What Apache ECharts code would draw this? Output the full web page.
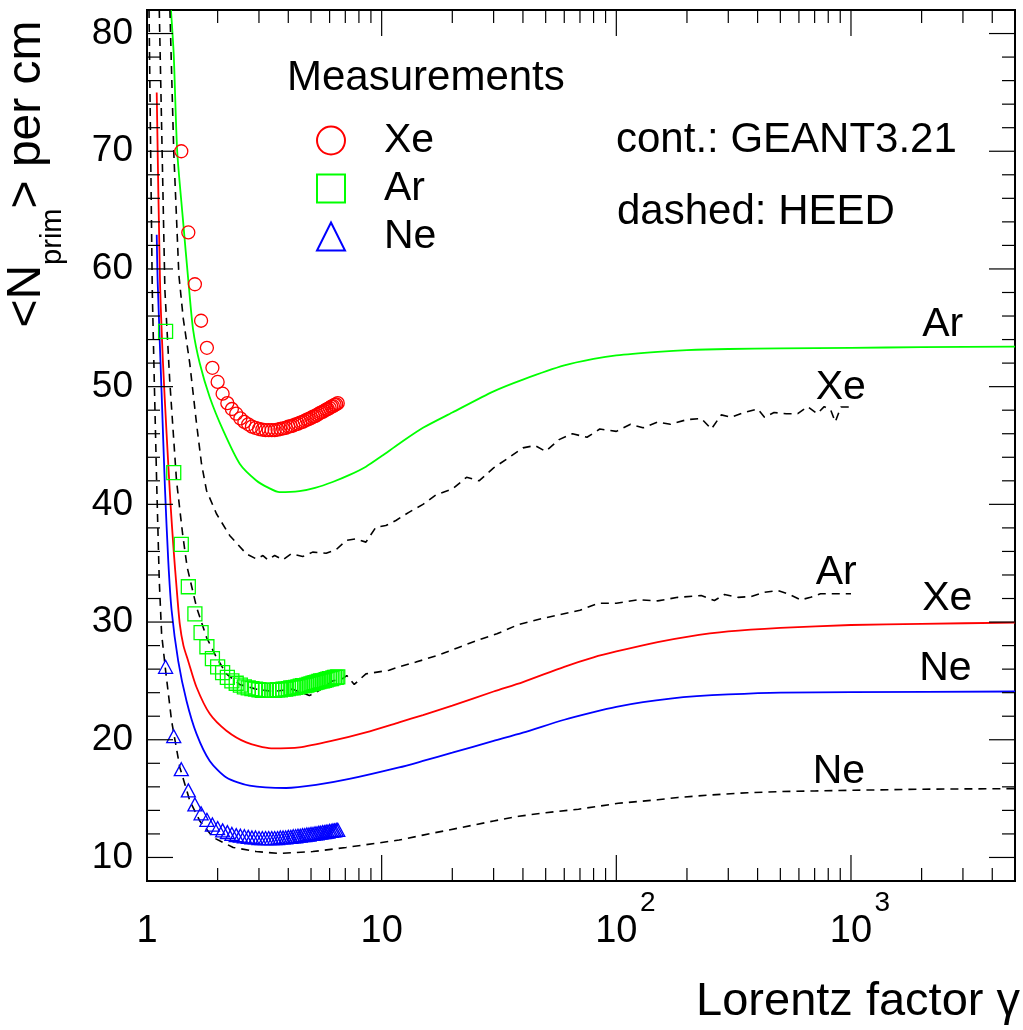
<!DOCTYPE html>
<html>
<head>
<meta charset="utf-8">
<script src="https://cdn.jsdelivr.net/npm/echarts@6/dist/echarts.min.js"></script>
<style>
html,body{margin:0;padding:0;background:#fff;}
#chart{width:1023px;height:1030px;}
</style>
</head>
<body>
<div id="chart"></div>
<script>
// ---------------- data ----------------
// measurements (gamma grid and mean primary clusters per cm)
const measGammaXe = [1.4,1.5,1.6,1.7,1.8,1.9,2.0,2.1,2.2,2.3,2.4,2.5,2.6,2.7,2.8,2.9,3.0,3.1,3.2,3.3,3.4,3.5,3.6,3.7,3.8,3.9,4.0,4.1,4.2,4.3,4.4,4.5,4.6,4.7,4.8,4.9,5.0,5.1,5.2,5.3,5.4,5.5,5.6,5.7,5.8,5.9,6.0,6.1,6.2,6.3,6.4,6.5];
const measXe = [70.0,63.1,58.7,55.6,53.3,51.6,50.4,49.4,48.6,48.1,47.7,47.3,47.0,46.8,46.6,46.5,46.4,46.35,46.3,46.3,46.3,46.3,46.35,46.4,46.45,46.5,46.6,46.65,46.7,46.8,46.85,46.95,47.0,47.1,47.2,47.25,47.35,47.45,47.5,47.6,47.7,47.8,47.85,47.95,48.05,48.1,48.2,48.3,48.35,48.45,48.5,48.6];
const measGammaArNe = [1.2,1.3,1.4,1.5,1.6,1.7,1.8,1.9,2.0,2.1,2.2,2.3,2.4,2.5,2.6,2.7,2.8,2.9,3.0,3.1,3.2,3.3,3.4,3.5,3.6,3.7,3.8,3.9,4.0,4.1,4.2,4.3,4.4,4.5,4.6,4.7,4.8,4.9,5.0,5.1,5.2,5.3,5.4,5.5,5.6,5.7,5.8,5.9,6.0,6.1,6.2,6.3,6.4,6.5];
const measAr = [54.7,42.7,36.6,33.0,30.7,29.1,27.9,26.9,26.2,25.7,25.3,25.0,24.8,24.65,24.5,24.4,24.35,24.3,24.25,24.2,24.2,24.2,24.2,24.2,24.25,24.25,24.3,24.3,24.35,24.4,24.4,24.45,24.5,24.55,24.6,24.6,24.65,24.7,24.75,24.8,24.85,24.9,24.95,25.0,25.0,25.05,25.1,25.15,25.2,25.2,25.25,25.3,25.3,25.35];
const measNe = [26.2,20.3,17.5,15.7,14.5,13.75,13.2,12.8,12.5,12.3,12.15,12.0,11.9,11.85,11.8,11.75,11.7,11.7,11.65,11.65,11.65,11.65,11.65,11.65,11.65,11.7,11.7,11.7,11.75,11.75,11.8,11.8,11.85,11.85,11.9,11.9,11.95,11.95,12.0,12.0,12.05,12.05,12.1,12.1,12.15,12.15,12.2,12.2,12.25,12.25,12.3,12.3,12.35,12.35];

// GEANT3.21 (solid)
const geantArGamma = [1.265,1.30,1.345,1.42,1.508,1.573,1.679,1.851,2.109,2.483,2.922,3.3,3.671,4.46,5.2,6.18,7.3,8.57,10,11.87,15,20,30,40,60,80,100,150,200,300,500,1000,2000,5000];
const geantAr = [82,78.2,70.0,64.4,58.5,54.8,51.96,49.1,46.3,43.45,42.03,41.4,41.04,41.12,41.4,41.9,42.5,43.2,44.1,45.15,46.5,47.8,49.6,50.6,51.8,52.35,52.65,52.95,53.1,53.2,53.25,53.3,53.35,53.4];
const geantXeGamma = [1.1,1.136,1.17,1.212,1.26,1.30,1.336,1.38,1.43,1.498,1.626,1.851,2.18,2.65,3.38,4.46,6.18,8.57,11.87,15,20,30,40,60,80,100,150,200,300,500,1000,2000,5000];
const geantXe = [75,59,52,46,40,36,33,29.8,28.0,26.7,24.46,22.2,20.77,19.78,19.27,19.35,19.92,20.63,21.48,22.1,22.9,24.1,24.9,26.2,27.0,27.5,28.3,28.75,29.2,29.5,29.75,29.85,29.95];
const geantNeGamma = [1.1,1.11,1.154,1.192,1.232,1.273,1.358,1.474,1.626,1.851,2.18,2.738,3.92,5.25,7.28,11.87,15,20,30,40,60,80,100,130,170,220,300,500,1000,5000];
const geantNe = [62.9,59.0,49.5,41.5,35.2,31.0,26.7,23.3,20.5,18.2,16.8,16.1,15.9,16.16,16.67,17.65,18.2,18.9,19.9,20.6,21.7,22.35,22.8,23.2,23.5,23.7,23.85,24.0,24.05,24.1];

// HEED (dashed)
const heedXeGamma = [1.252,1.30,1.367,1.427,1.522,1.626,1.707,1.793,1.977,2.25,2.65,2.92,3.12,3.27,3.50,3.79,4.12,4.61,5.08,5.8,6.39,7.05,7.77,8.57,9.45,10.42,11.5,13,15,17,20,23,26,30,35,40,45,50,57,65,75,85,100,115,130,150,170,200,230,254,280,309,350,401,428,470,530,593,653,718,769,820,857,906,982];
const heedXe = [82,70.0,59.5,55.8,51.95,46.85,43.45,41.18,39.2,37.36,35.8,35.37,35.65,35.29,35.65,35.29,35.8,35.57,35.94,35.85,36.14,36.93,37.07,36.79,38.06,38.2,38.63,39.3,40.0,40.8,41.3,42.3,42.0,43.1,44.0,44.8,45.0,44.5,45.5,46.0,45.7,46.4,46.2,46.8,46.5,47.0,46.8,47.2,47.3,46.4,47.6,47.4,47.8,48.1,47.4,47.8,47.7,47.7,48.3,47.7,48.3,48.0,47.0,48.27,48.27];
const heedArGamma = [1.128,1.16,1.192,1.25,1.336,1.42,1.483,1.626,1.793,1.977,2.18,2.48,2.92,3.44,4.18,4.92,5.43,6.18,6.82,7.1,7.64,8.57,10.76,11.87,14,17.5,21,26,31,38.4,46,56.7,70,84,100,124,150,183,230,262,289,330,375,428,488,538,611,673,741,1000];
const heedAr = [82,70,58.2,50.5,42.0,37.4,34.66,31.26,28.7,27.0,25.6,24.7,24.3,24.1,24.3,23.75,24.2,25.0,25.2,25.45,24.7,25.6,25.9,26.2,26.6,27.2,27.8,28.5,29.0,29.8,30.2,30.6,31.0,31.6,31.6,31.9,31.8,32.1,32.25,31.83,32.34,32.1,32.17,32.53,32.68,32.4,31.89,32.1,32.4,32.4];
const heedNeGamma = [1.02,1.053,1.074,1.099,1.128,1.154,1.2,1.273,1.38,1.523,1.679,1.913,2.33,2.92,3.67,5.09,7.05,11.87,15,21.3,30,38.4,50,69,102,150,183,250,363,500,700,967,2000,5000];
const heedNe = [82,58.2,50.5,42.0,33.5,29.0,25.9,21.6,17.65,14.8,13.1,11.7,10.85,10.5,10.34,10.5,10.85,11.48,11.9,12.5,13.1,13.5,13.8,14.1,14.6,14.9,15.1,15.3,15.5,15.6,15.65,15.7,15.8,15.85];

// curve annotations [gamma, value, text]
const curveLabels = [
  [2012, 55.3, 'Ar'],
  [707, 49.9, 'Xe'],
  [707, 34.2, 'Ar'],
  [2012, 32.0, 'Xe'],
  [1954, 26.0, 'Ne'],
  [687, 17.3, 'Ne']
];

// axis ticks
const xMajorTicks = [10, 100, 1000];
const xMinorTicks = [2,3,4,5,6,7,8,9,20,30,40,50,60,70,80,90,200,300,400,500,600,700,800,900,2000,3000,4000];
const yMajorTicks = [10,20,30,40,50,60,70,80];
const yMinorTicks = [12,14,16,18,22,24,26,28,32,34,36,38,42,44,46,48,52,54,56,58,62,64,66,68,72,74,76,78];

// ---------------- chart ----------------
const FONT = "'Liberation Sans', Arial, Helvetica, sans-serif";
const X_MIN = 1, X_MAX = 5000, Y_MIN = 8, Y_MAX = 82;
const zip = (xs, ys) => xs.map((x, i) => [x, ys[i]]);

const chart = echarts.init(document.getElementById('chart'), null, {renderer: 'canvas'});

function lineSeries(name, xs, ys, color, dashed) {
  return {
    name: name, type: 'line', data: zip(xs, ys), showSymbol: false, symbol: 'none',
    smooth: dashed ? false : 0.25, clip: true, silent: true, z: 3,
    lineStyle: {color: color, width: dashed ? 1.6 : 1.8, type: dashed ? [8, 6] : 'solid', opacity: 1}
  };
}
function markerSeries(name, xs, ys, color, symbol, size) {
  return {
    name: name, type: 'scatter', data: zip(xs, ys), symbol: symbol, symbolSize: size,
    itemStyle: {color: 'rgba(0,0,0,0)', borderColor: color, borderWidth: 1.3, opacity: 1}, z: 4, silent: true
  };
}

const xTickData = xMinorTicks.map(v => [v, Y_MIN, 13]).concat(xMajorTicks.map(v => [v, Y_MIN, 26]));
const yTickData = yMinorTicks.map(v => [X_MIN, v, 13]).concat(yMajorTicks.map(v => [X_MIN, v, 26]));
const titleStyle = {fontSize: 42, fontWeight: 'normal', color: '#000', fontFamily: FONT};

const option = {
  animation: false,
  backgroundColor: '#fff',
  textStyle: {fontFamily: FONT},
  grid: {left: 147, right: 6, top: 10, bottom: 149, show: true, borderColor: '#000', borderWidth: 2, backgroundColor: 'transparent'},
  title: [
    {text: 'Measurements', left: 287, top: 57, padding: 0, textStyle: titleStyle},
    {text: 'cont.: GEANT3.21', left: 616, top: 119, padding: 0, textStyle: titleStyle},
    {text: 'dashed: HEED', left: 617, top: 191, padding: 0, textStyle: titleStyle}
  ],
  legend: {
    orient: 'vertical', left: 316, top: 120, padding: 0,
    itemWidth: 28, itemHeight: 28, itemGap: 7, selectedMode: false,
    data: [{name: 'Xe', icon: 'circle'}, {name: 'Ar', icon: 'rect'}, {name: 'Ne', icon: 'triangle'}],
    textStyle: {fontSize: 41, color: '#000', fontFamily: FONT, lineHeight: 28, padding: [0, 0, 0, 34]}
  },
  xAxis: {
    type: 'log', logBase: 10, min: X_MIN, max: X_MAX,
    axisLine: {show: false}, axisTick: {show: false}, splitLine: {show: false}, minorTick: {show: false},
    axisLabel: {
      margin: 8, color: '#000',
      formatter: function (v) {
        const e = Math.round(Math.log10(v));
        if (Math.abs(Math.log10(v) - e) > 1e-6) return '';
        if (e === 0) return '{b|1}';
        if (e === 1) return '{b|10}';
        return '{p| }{b|10}{s|' + e + '}';
      },
      rich: {
        b: {fontSize: 38, lineHeight: 85, color: '#000', fontFamily: FONT},
        s: {fontSize: 28, lineHeight: 28, verticalAlign: 'top', width: 18, align: 'right', color: '#000', fontFamily: FONT},
        p: {fontSize: 28, width: 18, fontFamily: FONT}
      }
    },
    name: 'Lorentz factor γ', nameLocation: 'end', nameGap: 5,
    nameTextStyle: {fontSize: 47, color: '#000', fontFamily: FONT, align: 'right', verticalAlign: 'top', padding: [98, 0, 0, 0]}
  },
  yAxis: {
    type: 'value', min: Y_MIN, max: Y_MAX, interval: 2,
    axisLine: {show: false}, axisTick: {show: false}, splitLine: {show: false},
    axisLabel: {margin: 14, fontSize: 37, color: '#000', fontFamily: FONT,
      formatter: v => (Math.round(v) % 10 === 0 ? String(Math.round(v)) : '')}
  },
  graphic: [{
    type: 'text', rotation: Math.PI / 2, x: 27, y: 174, z: 10,
    style: {
      text: '<N{sub|prim}> per cm', fontSize: 48, fontFamily: FONT, fill: '#000',
      align: 'center', verticalAlign: 'middle', lineHeight: 80,
      rich: {sub: {fontSize: 29, lineHeight: 29, verticalAlign: 'bottom', fontFamily: FONT, fill: '#000'}}
    }
  }],
  series: [
    lineSeries('Ar GEANT3.21', geantArGamma, geantAr, '#00ff00', false),
    lineSeries('Xe GEANT3.21', geantXeGamma, geantXe, '#ff0000', false),
    lineSeries('Ne GEANT3.21', geantNeGamma, geantNe, '#0000ff', false),
    lineSeries('Xe HEED', heedXeGamma, heedXe, '#000', true),
    lineSeries('Ar HEED', heedArGamma, heedAr, '#000', true),
    lineSeries('Ne HEED', heedNeGamma, heedNe, '#000', true),
    markerSeries('Xe', measGammaXe, measXe, '#ff0000', 'circle', 13),
    markerSeries('Ar', measGammaArNe, measAr, '#00ff00', 'rect', 14),
    markerSeries('Ne', measGammaArNe, measNe, '#0000ff', 'triangle', [14, 13]),
    {
      name: 'labels', type: 'scatter', symbolSize: 0, silent: true, z: 5,
      itemStyle: {opacity: 1},
      data: curveLabels.map(d => ({value: [d[0], d[1]], name: d[2]})),
      label: {show: true, position: 'right', distance: 0, formatter: p => p.name, opacity: 1,
        fontSize: 41, color: '#000', fontFamily: FONT}
    },
    {
      name: 'xticks', type: 'custom', silent: true, clip: false, z: 6,
      data: xTickData, encode: {x: 0, y: 1},
      renderItem: function (params, api) {
        const v = api.value(0), len = api.value(2);
        const b = api.coord([v, Y_MIN]), t = api.coord([v, Y_MAX]);
        const st = {stroke: '#000', lineWidth: 1.2};
        return {type: 'group', children: [
          {type: 'line', shape: {x1: b[0], y1: b[1], x2: b[0], y2: b[1] - len}, style: st},
          {type: 'line', shape: {x1: t[0], y1: t[1], x2: t[0], y2: t[1] + len}, style: st}
        ]};
      }
    },
    {
      name: 'yticks', type: 'custom', silent: true, clip: false, z: 6,
      data: yTickData, encode: {x: 0, y: 1},
      renderItem: function (params, api) {
        const v = api.value(1), len = api.value(2);
        const l = api.coord([X_MIN, v]), r = api.coord([X_MAX, v]);
        const st = {stroke: '#000', lineWidth: 1.2};
        return {type: 'group', children: [
          {type: 'line', shape: {x1: l[0], y1: l[1], x2: l[0] + len, y2: l[1]}, style: st},
          {type: 'line', shape: {x1: r[0], y1: r[1], x2: r[0] - len, y2: r[1]}, style: st}
        ]};
      }
    }
  ]
};
chart.setOption(option);
</script>
</body>
</html>
